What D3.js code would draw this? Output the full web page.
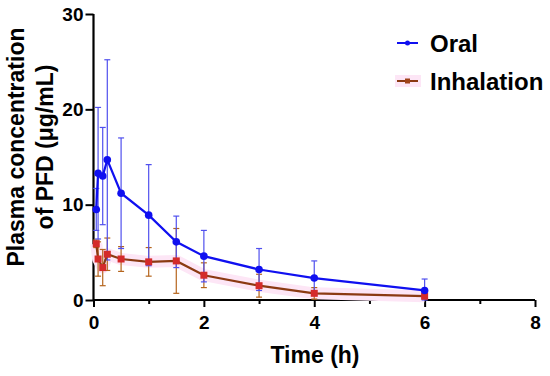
<!DOCTYPE html>
<html><head><meta charset="utf-8">
<script src="https://cdn.jsdelivr.net/npm/d3@7"></script>
<style>body{margin:0;background:#fff}svg{display:block}text{font-family:"Liberation Sans",Arial,sans-serif;font-weight:bold}</style>
</head><body>
<svg id="c" width="550" height="376"></svg>
<script>
const time = [0.05, 0.083, 0.167, 0.25, 0.5, 1, 1.5, 2, 3, 4, 6];
const oralMean = [9.5, 13.3, 13.0, 14.7, 11.2, 8.9, 6.1, 4.6, 3.2, 2.3, 1.0];
const oralSD = [2.2, 6.9, 5.1, 10.5, 5.8, 5.3, 2.7, 2.7, 2.2, 1.8, 1.2];
const inhalMean = [5.9, 4.3, 3.4, 4.8, 4.3, 4.0, 4.1, 2.6, 1.5, 0.7, 0.4];
const inhalSD = [0.4, 1.8, 1.9, 1.7, 1.3, 1.5, 3.4, 1.3, 1.2, 0.6, 0.3];
const xTicks = [0, 2, 4, 6, 8];
const xMinor = [1, 3, 5, 7];
const yTicks = [0, 10, 20, 30];
const seriesNames = ["Oral", "Inhalation"];

const svg = d3.select("#c");
const x = d3.scaleLinear().domain([0, 8]).range([93.5, 535]);
const y = d3.scaleLinear().domain([0, 30]).range([300, 14]);

// axes
const xAxis = svg.append("g").attr("transform", "translate(0,300)")
  .call(d3.axisBottom(x).tickValues(xTicks).tickSize(7).tickPadding(9).tickFormat(d3.format("d")));
svg.append("g").attr("transform", "translate(0,300)")
  .call(d3.axisBottom(x).tickValues(xMinor).tickSize(4).tickFormat(""))
  .select(".domain").remove();
const yAxis = svg.append("g").attr("transform", "translate(93.5,0)")
  .call(d3.axisLeft(y).tickValues(yTicks).tickSize(8).tickPadding(2).tickFormat(d3.format("d")));
svg.selectAll(".domain").attr("stroke", "#000").attr("stroke-width", 2.2);
svg.selectAll(".tick line").attr("stroke", "#000").attr("stroke-width", 2);
svg.selectAll(".tick text").attr("font-size", 19).attr("font-weight", "bold").attr("fill", "#000")
  .attr("font-family", "Liberation Sans, Arial, sans-serif");
xAxis.selectAll(".domain").attr("d", "M93.5,0H535");
yAxis.selectAll(".domain").attr("d", "M0,14V300");

// titles
svg.append("text").attr("x", 315).attr("y", 363).attr("text-anchor", "middle")
  .attr("font-size", 23).text("Time (h)");
const yt = svg.append("text").attr("transform", "translate(0,147) rotate(-90)").attr("text-anchor", "middle").attr("font-size", 23);
yt.append("tspan").attr("x", 0).attr("y", 24).text("Plasma concentration");
yt.append("tspan").attr("x", 0).attr("y", 53).text("of PFD (μg/mL)");

const line = d3.line().x(d => x(d.t)).y(d => y(d.m));
function build(mean, sd) { return time.map((t, i) => ({t, m: mean[i], s: sd[i]})); }
const oral = build(oralMean, oralSD);
const inhal = build(inhalMean, inhalSD);

// pink highlight behind inhalation
svg.append("path").datum(inhal).attr("d", line).attr("fill", "none")
  .attr("stroke", "#fde6f6").attr("stroke-width", 12).attr("stroke-linejoin", "round");

function errorBars(data, color) {
  const g = svg.append("g").attr("stroke", color).attr("stroke-width", 1.2).attr("fill", "none");
  data.forEach(d => {
    const cx = x(d.t), y1 = y(d.m + d.s), y0 = y(Math.max(0, d.m - d.s));
    g.append("line").attr("x1", cx).attr("x2", cx).attr("y1", y1).attr("y2", y0);
    g.append("line").attr("x1", cx - 3).attr("x2", cx + 3).attr("y1", y1).attr("y2", y1);
    g.append("line").attr("x1", cx - 3).attr("x2", cx + 3).attr("y1", y0).attr("y2", y0);
  });
}
errorBars(inhal, "#b5651d");
errorBars(oral, "#5050ee");

svg.append("path").datum(inhal).attr("d", line).attr("fill", "none").attr("stroke", "#8b3a12").attr("stroke-width", 2.2);
svg.append("path").datum(oral).attr("d", line).attr("fill", "none").attr("stroke", "#1010f0").attr("stroke-width", 2.2);

svg.append("g").selectAll("rect").data(inhal).join("rect")
  .attr("x", d => x(d.t) - 3.5).attr("y", d => y(d.m) - 3.5).attr("width", 7).attr("height", 7)
  .attr("fill", "#d42a2a");
svg.append("g").selectAll("circle").data(oral).join("circle")
  .attr("cx", d => x(d.t)).attr("cy", d => y(d.m)).attr("r", 3.8).attr("fill", "#1010f0");

// legend
const lg = svg.append("g");
lg.append("rect").attr("x", 395).attr("y", 75).attr("width", 26).attr("height", 12).attr("fill", "#fde6f6");
lg.append("line").attr("x1", 397).attr("x2", 418).attr("y1", 43).attr("y2", 43).attr("stroke", "#1010f0").attr("stroke-width", 2);
lg.append("circle").attr("cx", 407.5).attr("cy", 43).attr("r", 2.5).attr("fill", "#1010f0");
lg.append("line").attr("x1", 397).attr("x2", 418).attr("y1", 81).attr("y2", 81).attr("stroke", "#8b3a12").attr("stroke-width", 2);
lg.append("rect").attr("x", 405).attr("y", 78.5).attr("width", 5).attr("height", 5).attr("fill", "#a0441a");
lg.append("text").attr("x", 430).attr("y", 52).attr("font-size", 24).text(seriesNames[0]);
lg.append("text").attr("x", 430).attr("y", 90).attr("font-size", 24).text(seriesNames[1]);
</script>
</body></html>
